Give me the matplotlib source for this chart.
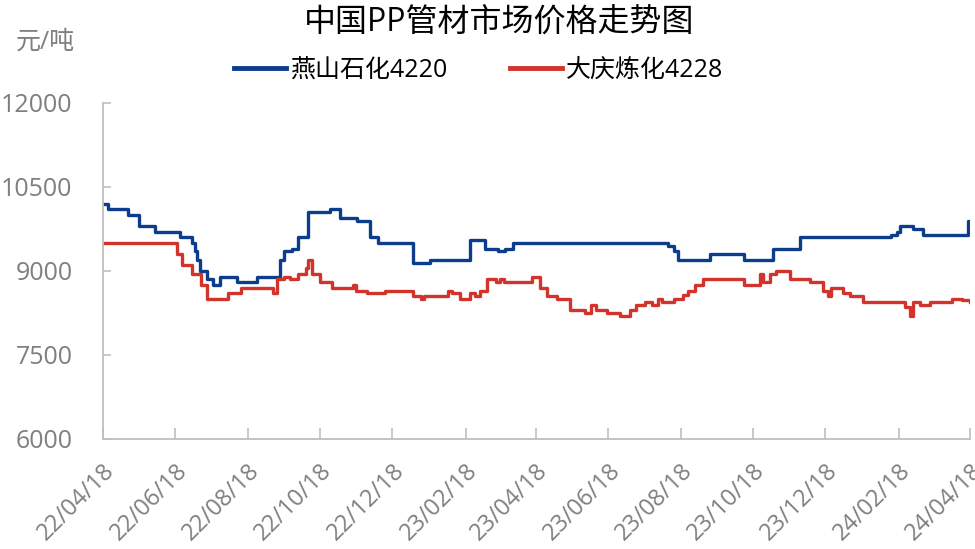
import matplotlib
matplotlib.use("Agg")
import matplotlib.pyplot as plt
from datetime import datetime

plt.rcParams['font.family'] = ['Open Sans', 'Noto Sans CJK SC', 'DejaVu Sans']

title = "中国PP管材市场价格走势图"
unit_label = "元/吨"
series_names = ["燕山石化4220", "大庆炼化4228"]

yanshan_dates = ["2022-04-18", "2022-04-22", "2022-05-09", "2022-05-18", "2022-06-01", "2022-06-22",
                 "2022-07-02", "2022-07-05", "2022-07-06", "2022-07-09", "2022-07-15", "2022-07-20",
                 "2022-07-26", "2022-08-09", "2022-08-26", "2022-09-14", "2022-09-18", "2022-09-24",
                 "2022-09-29", "2022-10-08", "2022-10-26", "2022-11-04", "2022-11-18", "2022-11-29",
                 "2022-12-06", "2023-01-04", "2023-01-19", "2023-02-21", "2023-03-06", "2023-03-17",
                 "2023-03-23", "2023-03-30", "2023-08-07", "2023-08-12", "2023-08-16", "2023-09-12",
                 "2023-10-10", "2023-11-04", "2023-11-27", "2024-02-11", "2024-02-16", "2024-02-19",
                 "2024-03-01", "2024-03-09", "2024-04-16", "2024-04-18"]
yanshan_values = [10200, 10100, 10000, 9800, 9700, 9600,
                  9500, 9350, 9200, 9000, 8850, 8750,
                  8900, 8800, 8900, 9200, 9350, 9400,
                  9600, 10050, 10100, 9950, 9900, 9600,
                  9500, 9150, 9200, 9550, 9400, 9350,
                  9400, 9500, 9450, 9350, 9200, 9300,
                  9200, 9400, 9600, 9650, 9700, 9800,
                  9750, 9650, 9900, 9900]

daqing_dates = ["2022-04-18", "2022-06-19", "2022-06-24", "2022-07-02", "2022-07-10", "2022-07-15",
                "2022-08-01", "2022-08-12", "2022-09-08", "2022-09-12", "2022-09-18", "2022-09-23",
                "2022-09-29", "2022-10-06", "2022-10-08", "2022-10-11", "2022-10-18", "2022-10-28",
                "2022-11-15", "2022-11-17", "2022-11-27", "2022-12-12", "2023-01-04", "2023-01-11",
                "2023-01-14", "2023-02-03", "2023-02-06", "2023-02-13", "2023-02-21", "2023-02-26",
                "2023-03-02", "2023-03-08", "2023-03-15", "2023-03-19", "2023-03-22", "2023-04-15",
                "2023-04-21", "2023-04-27", "2023-05-06", "2023-05-17", "2023-05-29", "2023-06-03",
                "2023-06-08", "2023-06-17", "2023-06-28", "2023-07-06", "2023-07-11", "2023-07-19",
                "2023-07-25", "2023-07-30", "2023-08-02", "2023-08-12", "2023-08-20", "2023-08-24",
                "2023-08-30", "2023-09-06", "2023-10-10", "2023-10-24", "2023-10-26", "2023-11-01",
                "2023-11-06", "2023-11-18", "2023-12-05", "2023-12-16", "2023-12-20", "2023-12-23",
                "2024-01-02", "2024-01-08", "2024-01-19", "2024-02-23", "2024-02-27", "2024-03-01",
                "2024-03-07", "2024-03-15", "2024-04-03", "2024-04-11", "2024-04-18"]
daqing_values = [9500, 9300, 9100, 8950, 8750, 8500,
                 8600, 8700, 8600, 8850, 8900, 8850,
                 8950, 9050, 9200, 8950, 8800, 8700,
                 8750, 8650, 8600, 8650, 8550, 8500,
                 8550, 8650, 8600, 8500, 8600, 8550,
                 8650, 8850, 8800, 8850, 8800, 8900,
                 8700, 8550, 8500, 8300, 8250, 8400,
                 8300, 8250, 8200, 8300, 8400, 8450,
                 8400, 8500, 8450, 8500, 8570, 8650,
                 8750, 8850, 8750, 8950, 8800, 8950,
                 9000, 8850, 8800, 8650, 8550, 8700,
                 8600, 8550, 8450, 8350, 8200, 8450,
                 8400, 8450, 8500, 8480, 8450]

x_ticks = ["2022-04-18", "2022-06-18", "2022-08-18", "2022-10-18", "2022-12-18", "2023-02-18",
           "2023-04-18", "2023-06-18", "2023-08-18", "2023-10-18", "2023-12-18", "2024-02-18",
           "2024-04-18"]
y_ticks = [6000, 7500, 9000, 10500, 12000]

colors = ["#0B3D8C", "#D2332A"]
gray = "#7F7F7F"
axis_gray = "#BFBFBF"

def to_dt(lst):
    return [datetime.strptime(s, "%Y-%m-%d") for s in lst]

fig = plt.figure(figsize=(9.75, 5.49), dpi=100)
ax = fig.add_axes([0.1056, 0.2004, 0.8894, 0.612])

ax.plot(to_dt(yanshan_dates), yanshan_values, drawstyle='steps-post', color=colors[0], lw=2.4,
        label=series_names[0])
ax.plot(to_dt(daqing_dates), daqing_values, drawstyle='steps-post', color=colors[1], lw=2.4,
        label=series_names[1])

ax.set_xlim(datetime(2022, 4, 18), datetime(2024, 4, 18))
ax.set_ylim(6000, 12000)
ax.set_yticks(y_ticks)
ax.set_yticklabels([str(v) for v in y_ticks])
xt = to_dt(x_ticks)
ax.set_xticks(xt)
ax.set_xticklabels([d.strftime("%y/%m/%d") for d in xt], rotation=45, ha='right',
                   rotation_mode='anchor')

for s in ['top', 'right']:
    ax.spines[s].set_visible(False)
for s in ['left', 'bottom']:
    ax.spines[s].set_color(axis_gray)
    ax.spines[s].set_linewidth(1.3)

ax.tick_params(axis='x', direction='in', length=8, color=axis_gray, width=1.2,
               labelsize=17, labelcolor=gray, pad=14)
ax.tick_params(axis='y', direction='in', length=6, color=axis_gray, width=1.2,
               labelsize=18, labelcolor=gray, pad=22)

fig.text(0.512, 0.958, title, ha='center', va='center', fontsize=23, color='black')
fig.text(0.046, 0.923, unit_label, ha='center', va='center', fontsize=18, color=gray)

leg = fig.legend(loc='center', bbox_to_anchor=(0.491, 0.872), ncol=2, frameon=False,
                 fontsize=18, handlelength=2.1, columnspacing=2.5, handletextpad=0.15)
for line in leg.get_lines():
    line.set_linewidth(3.5)

fig.savefig("out.png", dpi=100)
